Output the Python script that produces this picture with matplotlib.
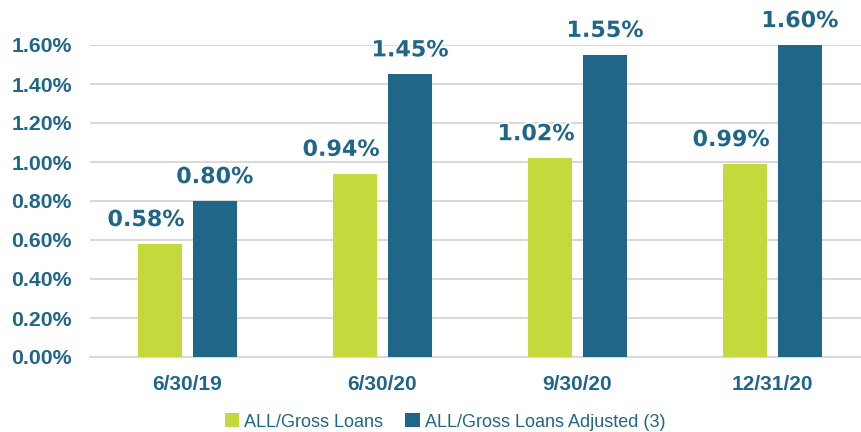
import matplotlib.pyplot as plt
import matplotlib.patheffects as pe
import numpy as np

dates = ['6/30/19', '6/30/20', '9/30/20', '12/31/20']
gross = [0.58, 0.94, 1.02, 0.99]
adjusted = [0.80, 1.45, 1.55, 1.60]
series_names = ['ALL/Gross Loans', 'ALL/Gross Loans Adjusted (3)']

green = '#C5D93D'
blue = '#1F6688'
text_c = '#1F6688'

fig = plt.figure(figsize=(8.62, 4.32), dpi=100)
ax = fig.add_axes([90 / 862, 1 - 357 / 432, 780 / 862, 312 / 432])

x = np.arange(len(dates))
w = 0.226
off = 0.141
b1 = ax.bar(x - off, gross, w, color=green, label=series_names[0], zorder=3)
b2 = ax.bar(x + off, adjusted, w, color=blue, label=series_names[1], zorder=3)

# green labels sit a little left of their bars, as in the original
for bars, vals, dx in [(b1, gross, -10), (b2, adjusted, 0)]:
    for rect, v in zip(bars, vals):
        ax.annotate(f'{v:.2f}%', (rect.get_x() + rect.get_width() / 2, v),
                    xytext=(dx, 10), textcoords='offset points',
                    ha='center', va='bottom', fontsize=16, fontweight='bold',
                    color=text_c, family='DejaVu Sans', zorder=4,
                    path_effects=[pe.withStroke(linewidth=2.5, foreground='white')])

ax.set_xlim(-0.5, 3.5)
ax.set_ylim(0, 1.6)
yt = np.arange(0, 1.61, 0.2)
ax.set_yticks(yt)
ax.set_yticklabels([f'{v:.2f}%' for v in yt], fontsize=15.3, fontweight='bold',
                   color=text_c, family='Liberation Sans')
ax.set_xticks(x)
ax.set_xticklabels(dates, fontsize=15, fontweight='bold', color=text_c,
                   family='Liberation Sans')
ax.tick_params(length=0)
ax.tick_params(axis='y', pad=13)
ax.tick_params(axis='x', pad=13)
ax.grid(axis='y', color='#D9D9D9', linewidth=1.5, zorder=0)
for s in ['top', 'right', 'left']:
    ax.spines[s].set_visible(False)
ax.spines['bottom'].set_color('#D9D9D9')
ax.spines['bottom'].set_linewidth(1.5)
ax.spines['bottom'].set_zorder(1)

leg = fig.legend(handles=[b1, b2], loc='center', bbox_to_anchor=(445 / 862, 1 - 422 / 432),
                 ncol=2, frameon=False, handlelength=0.8, handleheight=0.8,
                 handletextpad=0.3, columnspacing=1.2,
                 prop={'family': 'Liberation Sans', 'size': 13})
for t in leg.get_texts():
    t.set_color(text_c)

fig.savefig('out.png', dpi=100)
